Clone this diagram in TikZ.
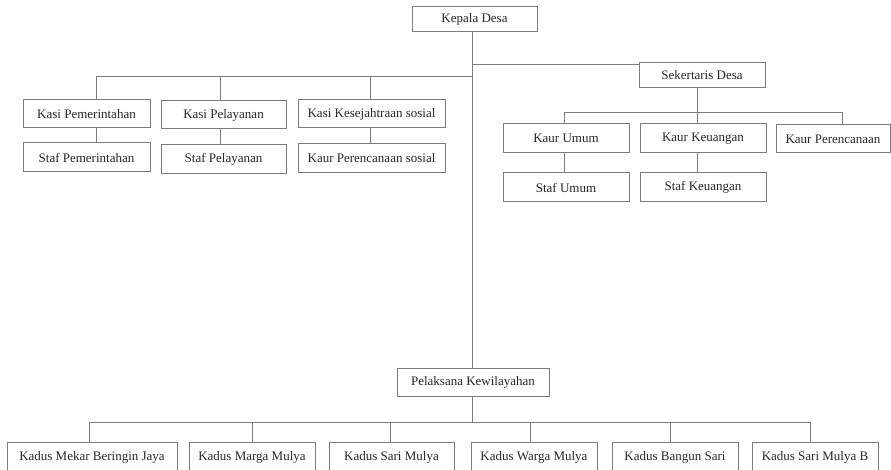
\documentclass[tikz,border=0pt]{standalone}
\usepackage{fontspec}
\setmainfont{Liberation Serif}
\definecolor{bc}{RGB}{125,125,125}
\definecolor{tc}{RGB}{40,40,40}
\begin{document}
\begin{tikzpicture}[x=1pt,y=-1pt,
  box/.style={draw=bc, line width=1pt, inner sep=0pt, outer sep=0pt, text=tc,
    font=\fontsize{13}{15}\selectfont, fill=white},
  conn/.style={draw=bc, line width=1pt}]
\useasboundingbox (0,0) rectangle (891,470);
\fill[white] (0,0) rectangle (891,470);
\begin{scope}
\clip (0,0) rectangle (891,470);
% coordinates
\coordinate (T) at (472,0);
\coordinate (ylsek) at (0,65);
\coordinate (ylb) at (0,77);
\coordinate (xa) at (96,0);
\coordinate (xb) at (220,0);
\coordinate (xc) at (370,0);
\coordinate (yrb) at (0,113);
\coordinate (xd) at (564,0);
\coordinate (xe) at (697,0);
\coordinate (xf) at (842,0);
\coordinate (ybb) at (0,422);
\coordinate (b1x) at (89,0);
\coordinate (b2x) at (252,0);
\coordinate (b3x) at (390,0);
\coordinate (b4x) at (530,0);
\coordinate (b5x) at (670,0);
\coordinate (b6x) at (810,0);
% nodes
\node[box, minimum width=125pt, minimum height=25pt] (kepala) at (474.5,19.5) {Kepala Desa};
\node[box, minimum width=126pt, minimum height=25pt] (sek) at (702,75.5) {Sekertaris Desa};
\node[box, minimum width=127pt, minimum height=28pt] (kp) at (86.5,114) {Kasi Pemerintahan};
\node[box, minimum width=127pt, minimum height=29pt] (sp) at (86.5,157.5) {Staf Pemerintahan};
\node[box, minimum width=125pt, minimum height=28pt] (kpl) at (223.5,115) {Kasi Pelayanan};
\node[box, minimum width=125pt, minimum height=29pt] (spl) at (223.5,159.5) {Staf Pelayanan};
\node[box, minimum width=147pt, minimum height=28pt] (kk) at (371.5,114) {Kasi Kesejahtraan sosial};
\node[box, minimum width=147pt, minimum height=29pt] (kps) at (371.5,158.5) {Kaur Perencanaan sosial};
\node[box, minimum width=126pt, minimum height=29pt] (ku) at (566,138.5) {Kaur Umum};
\node[box, minimum width=126pt, minimum height=29pt] (kkeu) at (703,138.5) {Kaur Keuangan};
\node[box, minimum width=114pt, minimum height=28pt] (kpr) at (833,139) {Kaur Perencanaan};
\node[box, minimum width=126pt, minimum height=29pt] (su) at (566,187.5) {Staf Umum};
\node[box, minimum width=126pt, minimum height=29pt] (skeu) at (703,187.5) {Staf Keuangan};
\node[box, minimum width=152pt, minimum height=28pt] (pel) at (473,382) {Pelaksana Kewilayahan};
\node[box, minimum width=170pt, minimum height=30pt] (b1) at (92,457) {Kadus Mekar Beringin Jaya};
\node[box, minimum width=126pt, minimum height=30pt] (b2) at (252,457) {Kadus Marga Mulya};
\node[box, minimum width=125pt, minimum height=30pt] (b3) at (391.5,457) {Kadus Sari Mulya};
\node[box, minimum width=126pt, minimum height=30pt] (b4) at (534,457) {Kadus Warga Mulya};
\node[box, minimum width=126pt, minimum height=30pt] (b5) at (675,457) {Kadus Bangun Sari};
\node[box, minimum width=126pt, minimum height=30pt] (b6) at (815,457) {Kadus Sari Mulya B};
% connectors
\draw[conn] (kepala.south -| T) -- (pel.north -| T);
\draw[conn] (T |- ylsek) -- (sek.west |- ylsek);
\draw[conn] (xa |- ylb) -- (T |- ylb);
\draw[conn] (xa |- ylb) -- (kp.north -| xa);
\draw[conn] (xb |- ylb) -- (kpl.north -| xb);
\draw[conn] (xc |- ylb) -- (kk.north -| xc);
\draw[conn] (kp.south -| xa) -- (sp.north -| xa);
\draw[conn] (kpl.south -| xb) -- (spl.north -| xb);
\draw[conn] (kk.south -| xc) -- (kps.north -| xc);
\draw[conn] (sek.south -| xe) -- (xe |- yrb);
\draw[conn] (ku.north -| xd) -- (xd |- yrb) -- (xf |- yrb) -- (kpr.north -| xf);
\draw[conn] (xe |- yrb) -- (kkeu.north -| xe);
\draw[conn] (ku.south -| xd) -- (su.north -| xd);
\draw[conn] (kkeu.south -| xe) -- (skeu.north -| xe);
\draw[conn] (pel.south -| T) -- (T |- ybb);
\draw[conn] (b1.north -| b1x) -- (b1x |- ybb) -- (b6x |- ybb) -- (b6.north -| b6x);
\draw[conn] (b2x |- ybb) -- (b2.north -| b2x);
\draw[conn] (b3x |- ybb) -- (b3.north -| b3x);
\draw[conn] (b4x |- ybb) -- (b4.north -| b4x);
\draw[conn] (b5x |- ybb) -- (b5.north -| b5x);
\end{scope}
\end{tikzpicture}
\end{document}
